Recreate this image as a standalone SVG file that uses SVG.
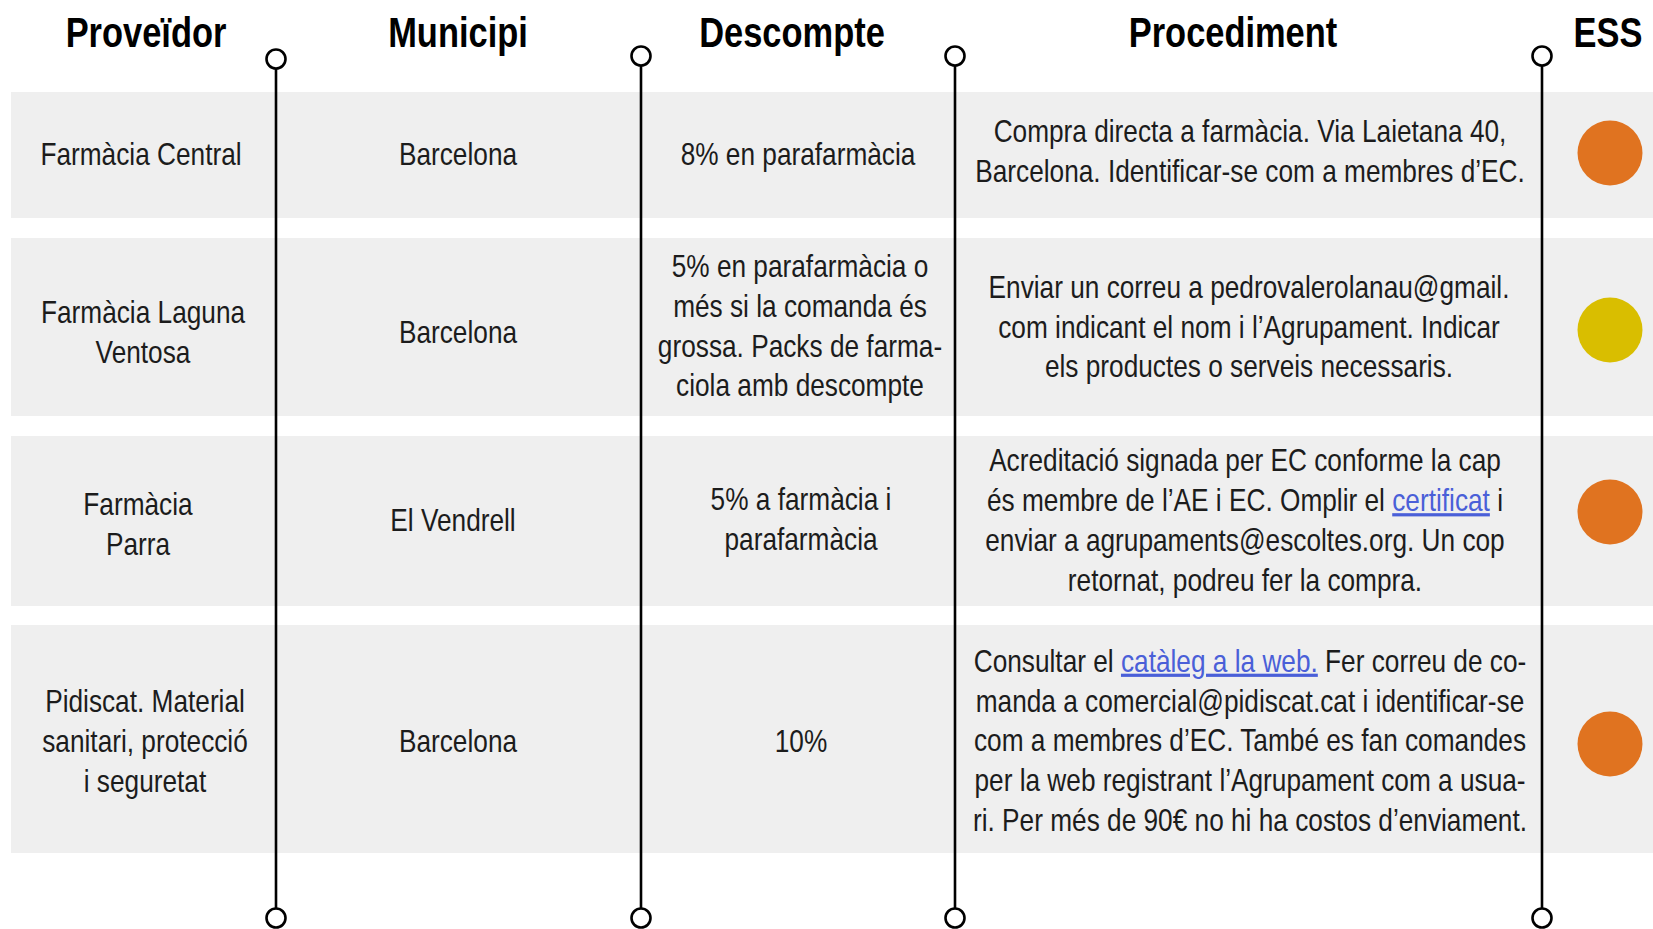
<svg xmlns="http://www.w3.org/2000/svg" width="1653" height="929" viewBox="0 0 1653 929">
<style>
.row{fill:#efefef}
.h{font-family:"Liberation Sans",Arial,sans-serif;font-weight:bold;font-size:42px;fill:#000;text-anchor:middle}
.t{font-family:"Liberation Sans",Arial,sans-serif;font-size:32px;fill:#1c1c1c;text-anchor:middle}
.lk{fill:#4a5fd8;text-decoration:underline}
.ln{stroke:#000;stroke-width:2.6;fill:none}
.knob{stroke:#000;stroke-width:2.6;fill:#fff}
.orange{fill:#e07320}
.yellow{fill:#d9be00}
</style>
<g id="rows">
<rect class="row" x="11" y="92" width="1642" height="126"/>
<rect class="row" x="11" y="238" width="1642" height="178"/>
<rect class="row" x="11" y="436" width="1642" height="170"/>
<rect class="row" x="11" y="625" width="1642" height="228"/>
</g>
<g id="headers">
<text class="h" transform="matrix(0.82 0 0 1 146 47)">Proveïdor</text>
<text class="h" transform="matrix(0.82 0 0 1 458 47)">Municipi</text>
<text class="h" transform="matrix(0.82 0 0 1 792 47)">Descompte</text>
<text class="h" transform="matrix(0.82 0 0 1 1233 47)">Procediment</text>
<text class="h" transform="matrix(0.82 0 0 1 1608 47)">ESS</text>
</g>
<g id="connectors">
<line class="ln" x1="276" y1="68" x2="276" y2="909"/>
<line class="ln" x1="641" y1="65" x2="641" y2="909"/>
<line class="ln" x1="955" y1="65" x2="955" y2="909"/>
<line class="ln" x1="1542" y1="65" x2="1542" y2="909"/>
<circle class="knob" cx="276" cy="59" r="9.5"/>
<circle class="knob" cx="641" cy="56" r="9.5"/>
<circle class="knob" cx="955" cy="56" r="9.5"/>
<circle class="knob" cx="1542" cy="56" r="9.5"/>
<circle class="knob" cx="276" cy="918" r="9.5"/>
<circle class="knob" cx="641" cy="918" r="9.5"/>
<circle class="knob" cx="955" cy="918" r="9.5"/>
<circle class="knob" cx="1542" cy="918" r="9.5"/>
</g>
<g id="row1">
<text class="t" transform="matrix(0.82 0 0 1 141 164.5)">Farmàcia Central</text>
<text class="t" transform="matrix(0.82 0 0 1 458 164.5)">Barcelona</text>
<text class="t" transform="matrix(0.82 0 0 1 798 164.5)">8% en parafarmàcia</text>
<text class="t" transform="matrix(0.82 0 0 1 1250 141.5)">Compra directa a farmàcia. Via Laietana 40,</text>
<text class="t" transform="matrix(0.82 0 0 1 1250 181.5)">Barcelona. Identificar-se com a membres d’EC.</text>
<circle class="orange" cx="1610" cy="153" r="32.5"/>
</g>
<g id="row2">
<text class="t" transform="matrix(0.82 0 0 1 143 322.5)">Farmàcia Laguna</text>
<text class="t" transform="matrix(0.82 0 0 1 143 362.5)">Ventosa</text>
<text class="t" transform="matrix(0.82 0 0 1 458 343)">Barcelona</text>
<text class="t" transform="matrix(0.82 0 0 1 800 277)">5% en parafarmàcia o</text>
<text class="t" transform="matrix(0.82 0 0 1 800 316.5)">més si la comanda és</text>
<text class="t" transform="matrix(0.82 0 0 1 800 356.5)">grossa. Packs de farma-</text>
<text class="t" transform="matrix(0.82 0 0 1 800 396)">ciola amb descompte</text>
<text class="t" transform="matrix(0.82 0 0 1 1249 298)">Enviar un correu a pedrovalerolanau@gmail.</text>
<text class="t" transform="matrix(0.82 0 0 1 1249 337.5)">com indicant el nom i l’Agrupament. Indicar</text>
<text class="t" transform="matrix(0.82 0 0 1 1249 377)">els productes o serveis necessaris.</text>
<circle class="yellow" cx="1610" cy="330" r="32.5"/>
</g>
<g id="row3">
<text class="t" transform="matrix(0.82 0 0 1 138 514.5)">Farmàcia</text>
<text class="t" transform="matrix(0.82 0 0 1 138 554.5)">Parra</text>
<text class="t" transform="matrix(0.82 0 0 1 453 530.5)">El Vendrell</text>
<text class="t" transform="matrix(0.82 0 0 1 801 510)">5% a farmàcia i</text>
<text class="t" transform="matrix(0.82 0 0 1 801 549.5)">parafarmàcia</text>
<text class="t" transform="matrix(0.82 0 0 1 1245 471)">Acreditació signada per EC conforme la cap</text>
<text class="t" transform="matrix(0.82 0 0 1 1245 511)">és membre de l’AE i EC. Omplir el <tspan class="lk">certificat</tspan> i</text>
<text class="t" transform="matrix(0.82 0 0 1 1245 551)">enviar a agrupaments@escoltes.org. Un cop</text>
<text class="t" transform="matrix(0.82 0 0 1 1245 591)">retornat, podreu fer la compra.</text>
<circle class="orange" cx="1610" cy="512" r="32.5"/>
</g>
<g id="row4">
<text class="t" transform="matrix(0.82 0 0 1 145 711.5)">Pidiscat. Material</text>
<text class="t" transform="matrix(0.82 0 0 1 145 751.5)">sanitari, protecció</text>
<text class="t" transform="matrix(0.82 0 0 1 145 791.5)">i seguretat</text>
<text class="t" transform="matrix(0.82 0 0 1 458 752)">Barcelona</text>
<text class="t" transform="matrix(0.82 0 0 1 801 752)">10%</text>
<text class="t" transform="matrix(0.82 0 0 1 1250 671.5)">Consultar el <tspan class="lk">catàleg a la web.</tspan> Fer correu de co-</text>
<text class="t" transform="matrix(0.82 0 0 1 1250 711.5)">manda a comercial@pidiscat.cat i identificar-se</text>
<text class="t" transform="matrix(0.82 0 0 1 1250 751)">com a membres d’EC. També es fan comandes</text>
<text class="t" transform="matrix(0.82 0 0 1 1250 790.5)">per la web registrant l’Agrupament com a usua-</text>
<text class="t" transform="matrix(0.82 0 0 1 1250 830.5)">ri. Per més de 90€ no hi ha costos d’enviament.</text>
<circle class="orange" cx="1610" cy="744" r="32.5"/>
</g>
</svg>
